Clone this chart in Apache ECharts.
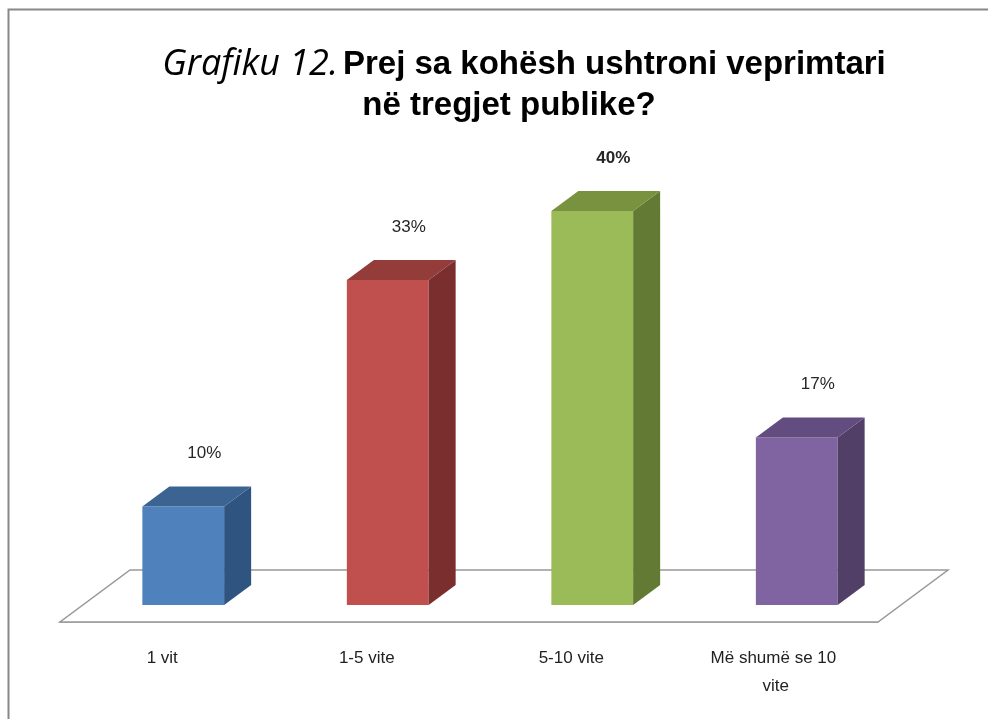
<!DOCTYPE html>
<html>
<head>
<meta charset="utf-8">
<script src="https://cdn.jsdelivr.net/npm/echarts@6/dist/echarts.min.js"></script>
<style>
  html, body { margin: 0; padding: 0; background: #fff; }
  #chart { width: 988px; height: 719px; }
</style>
</head>
<body>
<div id="chart"></div>
<script>
// data
var categories = ['1 vit', '1-5 vite', '5-10 vite', 'Më shumë se 10 vite'];
var values = [10, 33, 40, 17];
var valueLabels = ['10%', '33%', '40%', '17%'];

// colours per bar: front, top, side
var frontColors = ['#4F81BD', '#C0504D', '#9BBB59', '#8064A2'];
var topColors = ['#3C6493', '#943C3A', '#78923F', '#634D80'];
var sideColors = ['#2F5480', '#7A2F2E', '#637A35', '#513F68'];

// fake 3d projection (pixels)
var FLOOR_DX = 70, FLOOR_DY = 52;
var FRONT_DX = 21, FRONT_DY = 17;
var BAR_DX = 27, BAR_DY = 20;
var BOLD_INDEX = 2;
var FONT = "'Liberation Sans', sans-serif";

var chart = echarts.init(document.getElementById('chart'));

var titleRich = {
  i: { fontFamily: "'Open Sans', sans-serif", fontStyle: 'italic', fontWeight: 'normal', fontSize: 36, color: '#000' },
  b: { fontFamily: FONT, fontWeight: 'bold', fontSize: 33, color: '#000' }
};

var option = {
  backgroundColor: '#fff',
  animation: false,
  title: [{
    left: 519,
    top: 42,
    textAlign: 'center',
    text: '{i|Grafiku 12.} {b|Prej sa kohësh ushtroni veprimtari}',
    textStyle: { rich: titleRich }
  }, {
    left: 504,
    top: 84,
    textAlign: 'center',
    text: '{b|në tregjet publike?}',
    textStyle: { rich: titleRich }
  }],
  graphic: [{
    type: 'rect',
    shape: { x: 8.5, y: 9.5, width: 1000, height: 730 },
    style: { fill: 'none', stroke: '#888', lineWidth: 2 },
    z: 100
  }],
  grid: { left: 60, right: 110, top: 129.5, bottom: 97 },
  xAxis: {
    type: 'category',
    data: categories,
    axisLine: { lineStyle: { color: '#999', width: 1.5 } },
    axisTick: { length: 6, lineStyle: { color: '#999', width: 1.5 } },
    axisLabel: {
      margin: 22,
      fontFamily: FONT,
      fontSize: 17,
      color: '#222',
      lineHeight: 28,
      width: 150,
      overflow: 'break'
    }
  },
  yAxis: {
    type: 'value',
    min: 0,
    max: 50,
    show: false,
    splitLine: { show: false }
  },
  series: [{
    type: 'custom',
    z: 1,
    data: [[0, 0]],
    renderItem: function (params, api) {
      var cs = params.coordSys;
      var y0 = cs.y + cs.height;
      return {
        type: 'polygon',
        shape: {
          points: [
            [cs.x, y0],
            [cs.x + cs.width, y0],
            [cs.x + cs.width + FLOOR_DX, y0 - FLOOR_DY],
            [cs.x + FLOOR_DX, y0 - FLOOR_DY]
          ]
        },
        style: { fill: '#fff', stroke: '#999', lineWidth: 1.5 }
      };
    }
  }, {
    type: 'custom',
    z: 2,
    data: values.map(function (v, i) { return [i, v]; }),
    renderItem: function (params, api) {
      var i = api.value(0);
      var base = api.coord([i, 0]);
      var top = api.coord([i, api.value(1)]);
      var bw = api.size([1, 0])[0] * 0.4;
      var x0 = base[0] + FRONT_DX - bw / 2;
      var x1 = x0 + bw;
      var yB = base[1] - FRONT_DY;
      var yT = yB - (base[1] - top[1]);
      return {
        type: 'group',
        children: [{
          type: 'polygon',
          shape: { points: [[x0, yT], [x1, yT], [x1, yB], [x0, yB]] },
          style: { fill: frontColors[i] }
        }, {
          type: 'polygon',
          shape: { points: [[x1, yT], [x1 + BAR_DX, yT - BAR_DY], [x1 + BAR_DX, yB - BAR_DY], [x1, yB]] },
          style: { fill: sideColors[i] }
        }, {
          type: 'polygon',
          shape: { points: [[x0, yT], [x0 + BAR_DX, yT - BAR_DY], [x1 + BAR_DX, yT - BAR_DY], [x1, yT]] },
          style: { fill: topColors[i] }
        }, {
          type: 'text',
          style: {
            x: (x0 + x1) / 2 + 21,
            y: yT - 53,
            text: valueLabels[i],
            align: 'center',
            verticalAlign: 'middle',
            fontFamily: FONT,
            fontSize: 17,
            fontWeight: i === BOLD_INDEX ? 'bold' : 'normal',
            fill: '#262626'
          }
        }]
      };
    }
  }]
};

chart.setOption(option);
</script>
</body>
</html>
